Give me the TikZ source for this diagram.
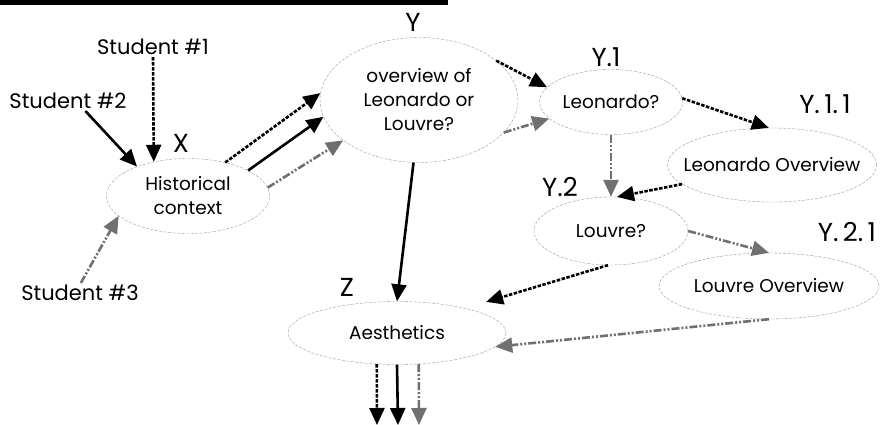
\documentclass[tikz,border=0pt]{standalone}
\usepackage{fontspec}
\setmainfont{Poppins}
\usetikzlibrary{shapes,arrows.meta,positioning}

\definecolor{linkgray}{RGB}{112,112,112}

\begin{document}
\begin{tikzpicture}[
    x=1pt, y=-1pt,
    topic/.style={ellipse, draw=gray!80, dash pattern=on 3pt off 1.5pt, line width=0.4pt,
      inner xsep=-40pt, inner ysep=-5pt, align=center, font=\fontsize{18.5}{24}\selectfont},
    tag/.style={inner sep=0pt, font=\fontsize{26}{26}\selectfont},
    student/.style={inner sep=2pt, font=\fontsize{21}{22}\selectfont},
    tip/.style={-{Triangle[length=17pt,width=15pt]}},
    pathA/.style={tip, line width=2.6pt, dash pattern=on 3.5pt off 1.5pt},
    pathB/.style={tip, line width=2.6pt},
    pathC/.style={tip, line width=2.6pt, linkgray, dash pattern=on 8pt off 2pt on 2pt off 2pt on 2pt off 2pt}
]
\useasboundingbox (0,0) rectangle (881,425);
\fill (0,0) rectangle (448,5);

% Topics
\node[topic, minimum width=163pt, minimum height=75pt] (hist) at (188,196) {Historical\\context};
\node[topic, minimum width=198pt, minimum height=125pt] (over) at (419,100) {overview of\\Leonardo or\\Louvre?};
\node[topic, minimum width=143pt, minimum height=65pt] (leo) at (611,102) {Leonardo?};
\node[topic, minimum width=209pt, minimum height=74pt] (leoover) at (772,165) {Leonardo Overview};
\node[topic, minimum width=154pt, minimum height=68pt] (louv) at (611,231) {Louvre?};
\node[topic, minimum width=220pt, minimum height=66pt] (louvover) at (769,286) {Louvre Overview};
\node[topic, minimum width=218pt, minimum height=63pt] (aest) at (397,333) {Aesthetics};

% Tags
\node[tag] (tagx) at (181,143) {X};
\node[tag] (tagy) at (413,22) {Y};
\node[tag] (tagy1) at (606,57) {Y.1};
\node[tag] (tagy11) at (825,104) {Y.\,1.\,1};
\node[tag] (tagy2) at (560,187) {Y.2};
\node[tag] (tagy21) at (847,232) {Y.\,2.\,1};
\node[tag] (tagz) at (347,287) {Z};

% Students
\node[student] (stu1) at (153,47) {Student \#1};
\node[student] (stu2) at (68,101) {Student \#2};
\node[student] (stu3) at (80,293) {Student \#3};

% Output ends
\coordinate (outa) at (377,425);
\coordinate (outb) at (398,425);
\coordinate (outc) at (419,425);

% Student paths
\draw[pathA] (stu1.south) -- (hist.135);
\draw[pathB] (stu2.-30) -- (hist.150);
\draw[pathC] (stu3.85) -- (hist.196);

% X to Y
\draw[pathA] (hist.42) -- (over.176);
\draw[pathB] (hist.23) -- (over.190);
\draw[pathC] (hist.6) -- (over.208);

% Y onwards
\draw[pathA] (over.27) -- (leo.167);
\draw[pathC] (over.-21) -- (leo.195);
\draw[pathB] (over.265) -- (aest.north);
\draw[pathA] (leo.3) -- (leoover.95);
\draw[pathC] (leo.south) -- (louv.north);
\draw[pathA] (leoover.192) -- (louv.80);
\draw[pathC] (louv.east) -- (louvover.north);
\draw[pathA, shorten >=22pt] (louv.265) -- (aest.20);
\draw[pathC] (louvover.south) -- (aest.-8);

% Z outputs
\draw[pathA] (aest.237) -- (outa);
\draw[pathB] (aest.south) -- (outb);
\draw[pathC] (aest.305) -- (outc);
\end{tikzpicture}
\end{document}
